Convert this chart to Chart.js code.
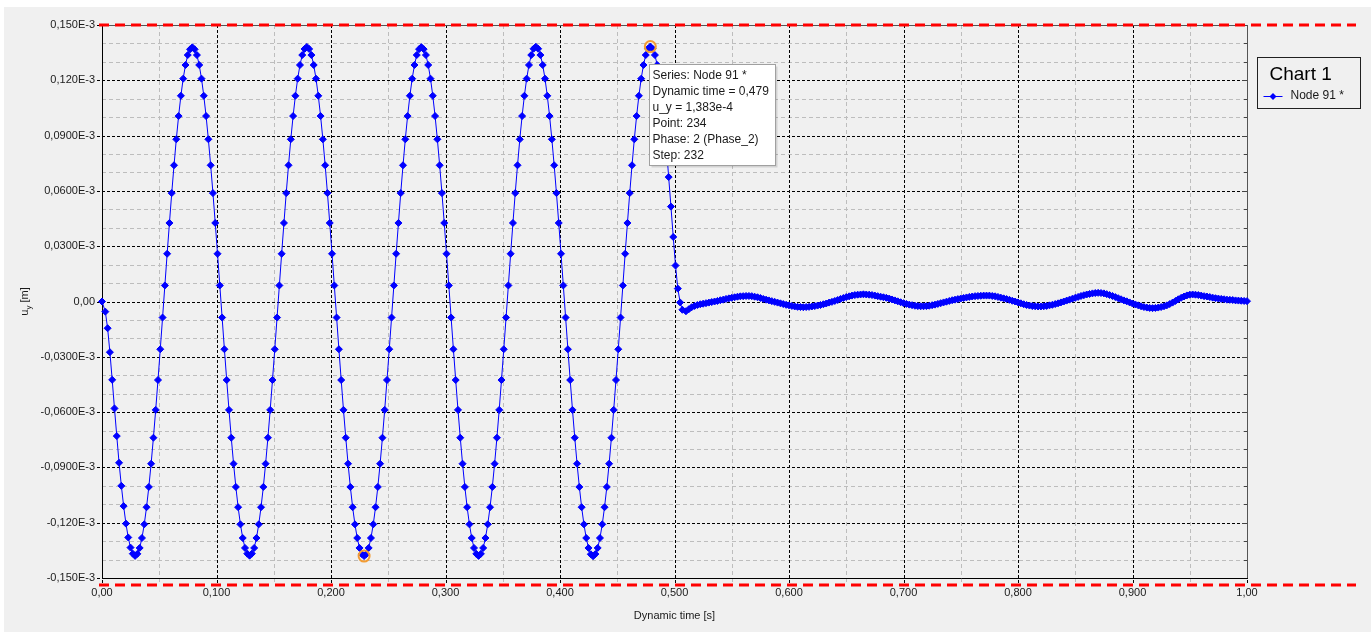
<!DOCTYPE html>
<html>
<head>
<meta charset="utf-8">
<title>Chart 1 - Node 91</title>
<style>
  html, body { margin: 0; padding: 0; background: #ffffff; }
  canvas { display: block; }
</style>
<script src="https://cdn.jsdelivr.net/npm/chart.js@4.4.1/dist/chart.umd.min.js"></script>
</head>
<body>
<canvas id="chart" width="1371" height="632"></canvas>
<script>
// ---- Series: vertical displacement u_y of node 91 ----
const seriesName = 'Node 91 *';
const chartTitle = 'Chart 1';

// Phase with harmonic loading: time [ms] and u_y [micrometre]
const loadTimeMs = [
  0, 2.9, 4.9, 6.9, 8.9, 10.9, 12.9, 14.9, 16.9, 18.9,
  20.9, 22.9, 24.9, 26.9, 28.9, 30.9, 32.9, 34.9, 36.9, 38.9,
  40.9, 42.9, 44.9, 46.9, 48.9, 50.9, 52.9, 54.9, 56.9, 58.9,
  60.9, 62.9, 64.9, 66.9, 68.9, 70.9, 72.9, 74.9, 76.9, 78.9,
  80.9, 82.9, 84.9, 86.9, 88.9, 90.9, 92.9, 94.9, 96.9, 98.9,
  100.9, 102.9, 104.9, 106.9, 108.9, 110.9, 112.9, 114.9, 116.9, 118.9,
  120.9, 122.9, 124.9, 126.9, 128.9, 130.9, 132.9, 134.9, 136.9, 138.9,
  140.9, 142.9, 144.9, 146.9, 148.9, 150.9, 152.9, 154.9, 156.9, 158.9,
  160.9, 162.9, 164.9, 166.9, 168.9, 170.9, 172.9, 174.9, 176.9, 178.9,
  180.9, 182.9, 184.9, 186.9, 188.9, 190.9, 192.9, 194.9, 196.9, 198.9,
  200.9, 202.9, 204.9, 206.9, 208.9, 210.9, 212.9, 214.9, 216.9, 218.9,
  220.9, 222.9, 224.9, 226.9, 228.9, 230.9, 232.9, 234.9, 236.9, 238.9,
  240.9, 242.9, 244.9, 246.9, 248.9, 250.9, 252.9, 254.9, 256.9, 258.9,
  260.9, 262.9, 264.9, 266.9, 268.9, 270.9, 272.9, 274.9, 276.9, 278.9,
  280.9, 282.9, 284.9, 286.9, 288.9, 290.9, 292.9, 294.9, 296.9, 298.9,
  300.9, 302.9, 304.9, 306.9, 308.9, 310.9, 312.9, 314.9, 316.9, 318.9,
  320.9, 322.9, 324.9, 326.9, 328.9, 330.9, 332.9, 334.9, 336.9, 338.9,
  340.9, 342.9, 344.9, 346.9, 348.9, 350.9, 352.9, 354.9, 356.9, 358.9,
  360.9, 362.9, 364.9, 366.9, 368.9, 370.9, 372.9, 374.9, 376.9, 378.9,
  380.9, 382.9, 384.9, 386.9, 388.9, 390.9, 392.9, 394.9, 396.9, 398.9,
  400.9, 402.9, 404.9, 406.9, 408.9, 410.9, 412.9, 414.9, 416.9, 418.9,
  420.9, 422.9, 424.9, 426.9, 428.9, 430.9, 432.9, 434.9, 436.9, 438.9,
  440.9, 442.9, 444.9, 446.9, 448.9, 450.9, 452.9, 454.9, 456.9, 458.9,
  460.9, 462.9, 464.9, 466.9, 468.9, 470.9, 472.9, 474.9, 476.9, 478.9,
  480.9, 482.9, 484.9, 486.9, 488.9, 490.9, 492.9, 494.9, 496.9, 498.9,
  500.9, 502.9, 504.9, 506.9
];
const loadUyUm = [
  0, -5.5, -14.5, -27.5, -42.5, -58.0, -73.0, -87.5, -100.0, -111.0,
  -120.5, -128.0, -133.5, -136.8,
  // cycle 1
  -138.0, -136.9, -133.7, -128.3, -120.9, -111.6, -100.6, -88.0, -73.9, -58.8,
  -42.6, -25.9, -8.7, 8.7, 25.9, 42.6, 58.8, 73.9, 88.0, 100.6,
  111.6, 120.9, 128.3, 133.7, 136.8, 137.9, 136.8, 133.7, 128.3, 120.9,
  111.6, 100.6, 88.0, 73.9, 58.8, 42.6, 25.9, 8.7, -8.7, -25.9,
  -42.6, -58.8, -73.9, -88.0, -100.6, -111.6, -120.9, -128.3, -133.7, -136.8,
  // cycle 2
  -137.9, -136.8, -133.7, -128.3, -120.9, -111.6, -100.6, -88.0, -73.9, -58.8,
  -42.6, -25.9, -8.7, 8.7, 25.9, 42.6, 58.8, 73.9, 88.0, 100.6,
  111.6, 120.9, 128.3, 133.7, 137.0, 138.1, 137.0, 133.7, 128.3, 120.9,
  111.6, 100.6, 88.0, 73.9, 58.8, 42.6, 25.9, 8.7, -8.7, -25.9,
  -42.6, -58.8, -73.9, -88.0, -100.6, -111.6, -120.9, -128.3, -133.7, -137.0,
  // cycle 3
  -138.1, -137.0, -133.7, -128.3, -120.9, -111.6, -100.6, -88.0, -73.9, -58.8,
  -42.6, -25.9, -8.7, 8.7, 25.9, 42.6, 58.8, 73.9, 88.0, 100.6,
  111.6, 120.9, 128.3, 133.7, 136.9, 138.0, 136.9, 133.7, 128.3, 120.9,
  111.6, 100.6, 88.0, 73.9, 58.8, 42.6, 25.9, 8.7, -8.7, -25.9,
  -42.6, -58.8, -73.9, -88.0, -100.6, -111.6, -120.9, -128.3, -133.7, -136.9,
  // cycle 4
  -138.0, -136.9, -133.7, -128.3, -120.9, -111.6, -100.6, -88.0, -73.9, -58.8,
  -42.6, -25.9, -8.7, 8.7, 25.9, 42.6, 58.8, 73.9, 88.0, 100.6,
  111.6, 120.9, 128.3, 133.7, 137.1, 138.2, 137.1, 133.7, 128.3, 120.9,
  111.6, 100.6, 88.0, 73.9, 58.8, 42.6, 25.9, 8.7, -8.7, -25.9,
  -42.6, -58.8, -73.9, -88.0, -100.6, -111.6, -120.9, -128.3, -133.7, -137.1,
  // cycle 5, load switched off after the last crest
  -138.2, -137.0, -133.7, -128.3, -120.9, -111.6, -100.6, -88.0, -73.9, -58.8,
  -42.6, -25.9, -8.7, 8.7, 25.9, 42.6, 58.8, 73.9, 88.0, 100.6,
  111.6, 120.9, 128.3, 133.7, 137.1, 138.3, 137.1, 133.7, 128.3, 120.9,
  111.6, 99.5, 84.0, 67.5, 51.5, 35.0, 19.5, 7.0, -0.5, -4.5
];

// Free vibration phase: time [ms] and u_y [micrometre]
const freeTimeMs = [
  510, 512.5, 515, 517.5, 520, 522.5, 525, 527.5,
  530, 532.5, 535, 537.5, 540, 542.5, 545, 547.5,
  550, 552.5, 555, 557.5, 560, 562.5, 565, 567.5,
  570, 572.5, 575, 577.5, 580, 582.5, 585, 587.5,
  590, 592.5, 595, 597.5, 600, 602.5, 605, 607.5,
  610, 612.5, 615, 617.5, 620, 622.5, 625, 627.5,
  630, 632.5, 635, 637.5, 640, 642.5, 645, 647.5,
  650, 652.5, 655, 657.5, 660, 662.5, 665, 667.5,
  670, 672.5, 675, 677.5, 680, 682.5, 685, 687.5,
  690, 692.5, 695, 697.5, 700, 702.5, 705, 707.5,
  710, 712.5, 715, 717.5, 720, 722.5, 725, 727.5,
  730, 732.5, 735, 737.5, 740, 742.5, 745, 747.5,
  750, 752.5, 755, 757.5, 760, 762.5, 765, 767.5,
  770, 772.5, 775, 777.5, 780, 782.5, 785, 787.5,
  790, 792.5, 795, 797.5, 800, 802.5, 805, 807.5,
  810, 812.5, 815, 817.5, 820, 822.5, 825, 827.5,
  830, 832.5, 835, 837.5, 840, 842.5, 845, 847.5,
  850, 852.5, 855, 857.5, 860, 862.5, 865, 867.5,
  870, 872.5, 875, 877.5, 880, 882.5, 885, 887.5,
  890, 892.5, 895, 897.5, 900, 902.5, 905, 907.5,
  910, 912.5, 915, 917.5, 920, 922.5, 925, 927.5,
  930, 932.5, 935, 937.5, 940, 942.5, 945, 947.5,
  950, 952.5, 955, 957.5, 960, 962.5, 965, 967.5,
  970, 972.5, 975, 977.5, 980, 982.5, 985, 987.5,
  990, 992.5, 995, 997.5, 1000
];
const freeUyUm = [
  -5.3, -4.2, -3.1, -2.4, -1.9, -1.5, -1.2, -0.9,
  -0.6, -0.3, 0.0, 0.3, 0.7, 1.0, 1.4, 1.7,
  2.0, 2.3, 2.6, 2.8, 2.9, 3.0, 3.0, 2.9,
  2.6, 2.3, 1.9, 1.4, 1.0, 0.6, 0.2, -0.2,
  -0.6, -1.0, -1.4, -1.8, -2.1, -2.4, -2.7, -2.9,
  -3.0, -3.1, -3.0, -2.9, -2.7, -2.5, -2.2, -1.9,
  -1.5, -1.1, -0.6, -0.2, 0.3, 0.8, 1.4, 1.9,
  2.4, 2.8, 3.2, 3.5, 3.7, 3.8, 3.9, 3.8,
  3.7, 3.5, 3.2, 2.9, 2.6, 2.3, 2.0, 1.6,
  1.1, 0.6, 0.1, -0.4, -0.9, -1.3, -1.7, -2.0,
  -2.3, -2.5, -2.6, -2.6, -2.5, -2.3, -2.0, -1.7,
  -1.3, -0.9, -0.5, -0.1, 0.3, 0.7, 1.0, 1.3,
  1.6, 1.9, 2.2, 2.5, 2.7, 2.9, 3.0, 3.1,
  3.2, 3.2, 3.2, 3.0, 2.8, 2.5, 2.1, 1.7,
  1.3, 0.9, 0.4, 0.0, -0.5, -1.0, -1.5, -1.9,
  -2.2, -2.5, -2.6, -2.7, -2.7, -2.6, -2.4, -2.1,
  -1.8, -1.4, -1.0, -0.5, 0.0, 0.5, 1.0, 1.5,
  2.0, 2.5, 3.0, 3.4, 3.8, 4.1, 4.4, 4.6,
  4.7, 4.6, 4.4, 4.0, 3.5, 3.0, 2.4, 1.8,
  1.2, 0.6, 0.1, -0.5, -1.1, -1.6, -2.1, -2.6,
  -3.0, -3.3, -3.5, -3.6, -3.5, -3.3, -3.0, -2.6,
  -2.1, -1.4, -0.6, 0.3, 1.2, 2.0, 2.7, 3.3,
  3.7, 3.8, 3.7, 3.5, 3.2, 2.9, 2.7, 2.4,
  2.1, 1.8, 1.6, 1.4, 1.2, 1.0, 0.9, 0.8,
  0.6, 0.5, 0.4, 0.3, 0.2
];

// Axis labels (decimal comma, as written by the program)
const xTickLabels = ['0,00', '0,100', '0,200', '0,300', '0,400', '0,500',
                     '0,600', '0,700', '0,800', '0,900', '1,00'];
const yTickLabels = ['-0,150E-3', '-0,120E-3', '-0,0900E-3', '-0,0600E-3', '-0,0300E-3', '0,00',
                     '0,0300E-3', '0,0600E-3', '0,0900E-3', '0,120E-3', '0,150E-3'];
const xMinorGrid = [0.05, 0.15, 0.25, 0.35, 0.45, 0.55, 0.65, 0.75, 0.85, 0.95];
const yMinorGrid = [-140, -130, -110, -100, -80, -70, -50, -40, -20, -10,
                    10, 20, 40, 50, 70, 80, 100, 110, 130, 140];

// Red limit lines [micrometre]
const limitLinesUm = [150, -153.8];

// Picked samples (index in the combined series) and the info box text
const pickedIndexes = [239, 114];
const infoIndex = 239;
const infoExtraLines = ['Point: 234', 'Phase: 2 (Phase_2)', 'Step: 232'];

// ---- build chart data ----
const seriesPoints = loadTimeMs.map((t, i) => ({ x: t / 1000, y: loadUyUm[i] }))
  .concat(freeTimeMs.map((t, i) => ({ x: t / 1000, y: freeUyUm[i] })));
const pickedPoints = pickedIndexes.map(i => seriesPoints[i]);

const FONT = "'Liberation Sans', Arial, sans-serif";
const TEXT = '#1a1a1a';
const BLUE = '#0000ff';

function strokeLine(ctx, x1, y1, x2, y2) {
  ctx.beginPath(); ctx.moveTo(x1, y1); ctx.lineTo(x2, y2); ctx.stroke();
}
const crisp = v => Math.round(v) + 0.5;

function diamond(ctx, x, y, r) {
  ctx.beginPath();
  ctx.moveTo(x, y - r); ctx.lineTo(x + r, y); ctx.lineTo(x, y + r); ctx.lineTo(x - r, y);
  ctx.closePath();
}

const plotDecor = {
  id: 'plotDecor',
  beforeDraw(chart) {
    const { ctx, width, height } = chart;
    ctx.save();
    ctx.fillStyle = '#ffffff';
    ctx.fillRect(0, 0, width, height);
    ctx.fillStyle = '#f0f0f0';
    ctx.fillRect(4, 7, width - 4, height - 7);
    ctx.restore();
  },
  beforeDatasetsDraw(chart) {
    const { ctx, chartArea: a, scales: { x, y } } = chart;
    ctx.save();
    ctx.lineWidth = 1;
    // minor grid
    ctx.strokeStyle = '#bdbdbd';
    ctx.setLineDash([4, 3]);
    xMinorGrid.forEach(v => {
      const X = crisp(x.getPixelForValue(v));
      strokeLine(ctx, X, a.top, X, a.bottom + 5);
    });
    yMinorGrid.forEach(v => {
      const Y = crisp(y.getPixelForValue(v));
      strokeLine(ctx, a.left, Y, a.right, Y);
    });
    // major grid
    ctx.strokeStyle = '#000000';
    ctx.setLineDash([3, 2]);
    x.ticks.forEach(t => {
      const X = crisp(x.getPixelForValue(t.value));
      strokeLine(ctx, X, a.top, X, a.bottom + 7);
    });
    y.ticks.forEach(t => {
      const Y = crisp(y.getPixelForValue(t.value));
      strokeLine(ctx, a.left - 5, Y, a.right, Y);
    });
    // frame
    ctx.setLineDash([]);
    ctx.strokeStyle = '#555555';
    strokeLine(ctx, a.left, crisp(a.top), a.right, crisp(a.top));
    strokeLine(ctx, crisp(a.right), a.top, crisp(a.right), a.bottom);
    // inner ticks on the right border
    ctx.strokeStyle = '#444444';
    yMinorGrid.forEach(v => {
      const Y = crisp(y.getPixelForValue(v));
      strokeLine(ctx, a.right - 3, Y, a.right, Y);
    });
    y.ticks.forEach(t => {
      const Y = crisp(y.getPixelForValue(t.value));
      strokeLine(ctx, a.right - 5, Y, a.right, Y);
    });
    // axes
    ctx.strokeStyle = '#000000';
    strokeLine(ctx, crisp(a.left), a.top, crisp(a.left), a.bottom + 1);
    strokeLine(ctx, a.left, crisp(a.bottom), a.right + 1, crisp(a.bottom));
    ctx.restore();
  },
  afterDatasetsDraw(chart) {
    const { ctx, chartArea: a, scales: { y } } = chart;
    ctx.save();
    ctx.strokeStyle = '#ff0000';
    ctx.lineWidth = 3;
    ctx.setLineDash([10, 6]);
    limitLinesUm.forEach(v => {
      const Y = Math.round(y.getPixelForValue(v));
      strokeLine(ctx, a.left - 3, Y, 1356, Y);
    });
    ctx.restore();
  },
  afterDraw(chart) {
    const { ctx, chartArea: a } = chart;
    ctx.save();

    // y axis title with subscript
    ctx.fillStyle = TEXT;
    ctx.translate(28, (a.top + a.bottom) / 2);
    ctx.rotate(-Math.PI / 2);
    ctx.textBaseline = 'alphabetic';
    const mainFont = '11px ' + FONT, subFont = '8px ' + FONT;
    ctx.font = mainFont; const wU = ctx.measureText('u').width; const wM = ctx.measureText(' [m]').width;
    ctx.font = subFont; const wY = ctx.measureText('y').width;
    let tx = -(wU + wY + wM) / 2;
    ctx.font = mainFont; ctx.fillText('u', tx, 0); tx += wU;
    ctx.font = subFont; ctx.fillText('y', tx, 3); tx += wY;
    ctx.font = mainFont; ctx.fillText(' [m]', tx, 0);
    ctx.setTransform(1, 0, 0, 1, 0, 0);

    // legend box
    const lx = Math.round(a.right) + 10.5, ly = 57.5, lw = 103, lh = 51;
    ctx.fillStyle = '#f0f0f0';
    ctx.fillRect(lx, ly, lw, lh);
    ctx.strokeStyle = '#202020';
    ctx.lineWidth = 1;
    ctx.strokeRect(lx, ly, lw, lh);
    ctx.fillStyle = '#000000';
    ctx.font = '19px ' + FONT;
    ctx.textBaseline = 'alphabetic';
    ctx.fillText(chartTitle, lx + 12, ly + 22);
    const iy = ly + 38;
    ctx.strokeStyle = BLUE;
    strokeLine(ctx, lx + 6, crisp(iy), lx + 25, crisp(iy));
    ctx.fillStyle = BLUE;
    diamond(ctx, lx + 15.5, crisp(iy), 3.5);
    ctx.fill();
    ctx.fillStyle = TEXT;
    ctx.font = '12px ' + FONT;
    ctx.textBaseline = 'middle';
    ctx.fillText(seriesName, lx + 33, iy);

    // info box next to the picked crest
    const el = chart.getDatasetMeta(1).data[infoIndex];
    const p = seriesPoints[infoIndex];
    const lines = [
      'Series: ' + seriesName,
      'Dynamic time = ' + p.x.toFixed(3).replace('.', ','),
      'u_y = ' + (p.y * 1e-6).toExponential(3).replace('.', ','),
      ...infoExtraLines
    ];
    ctx.font = '12px ' + FONT;
    const bw = Math.ceil(Math.max(...lines.map(s => ctx.measureText(s).width))) + 9;
    const bh = lines.length * 16 + 5;
    const bx = Math.round(el.x) - 1 + 0.5, by = Math.round(el.y) + 17 + 0.5;
    ctx.fillStyle = 'rgba(0,0,0,0.12)';
    ctx.fillRect(bx + 2, by + 2, bw, bh);
    ctx.fillStyle = '#ffffff';
    ctx.fillRect(bx, by, bw, bh);
    ctx.strokeStyle = '#a0a0a0';
    ctx.strokeRect(bx, by, bw, bh);
    ctx.fillStyle = TEXT;
    ctx.textBaseline = 'middle';
    lines.forEach((s, k) => ctx.fillText(s, bx + 3, by + 11 + k * 16));
    ctx.restore();
  }
};

new Chart(document.getElementById('chart'), {
  type: 'line',
  data: {
    datasets: [
      {
        label: 'picked',
        data: pickedPoints,
        showLine: false,
        order: 0,
        pointStyle: 'circle',
        pointRadius: 5.5,
        pointBorderWidth: 2,
        pointBorderColor: '#f39c33',
        pointBackgroundColor: 'rgba(0,0,0,0)',
        clip: 10
      },
      {
        label: seriesName,
        data: seriesPoints,
        order: 1,
        borderColor: BLUE,
        borderWidth: 1,
        tension: 0,
        pointStyle: 'rectRot',
        pointRadius: 3.5,
        pointBorderWidth: 1,
        pointBorderColor: BLUE,
        pointBackgroundColor: BLUE,
        clip: 8
      }
    ]
  },
  options: {
    responsive: false,
    animation: false,
    events: [],
    layout: { padding: { left: 0, top: 25, right: 124, bottom: 0 } },
    plugins: { legend: { display: false }, tooltip: { enabled: false } },
    scales: {
      x: {
        type: 'linear',
        min: 0,
        max: 1,
        grid: { display: false, drawTicks: false },
        border: { display: false },
        ticks: {
          stepSize: 0.1,
          autoSkip: false,
          maxRotation: 0,
          padding: 8,
          color: TEXT,
          font: { family: FONT, size: 11 },
          callback: v => xTickLabels[Math.round(v * 10)]
        },
        title: {
          display: true,
          text: 'Dynamic time [s]',
          color: TEXT,
          font: { family: FONT, size: 11 },
          padding: { top: 0, bottom: 9 }
        },
        afterFit(scale) { scale.height = 54; }
      },
      y: {
        type: 'linear',
        min: -150,
        max: 150,
        grid: { display: false, drawTicks: false },
        border: { display: false },
        ticks: {
          stepSize: 30,
          autoSkip: false,
          padding: 7,
          color: TEXT,
          font: { family: FONT, size: 11 },
          callback: v => yTickLabels[Math.round((v + 150) / 30)]
        },
        afterFit(scale) { scale.width = 102; }
      }
    }
  },
  plugins: [plotDecor]
});
</script>
</body>
</html>
